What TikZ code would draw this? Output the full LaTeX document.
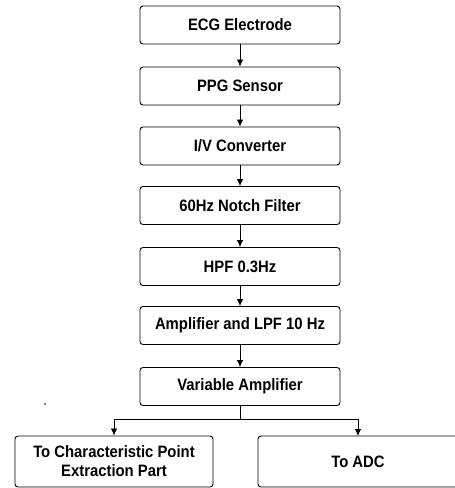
\documentclass[tikz,border=0pt]{standalone}
\usepackage{fontspec}
\setmainfont{Liberation Sans}
\newfontfamily\boxfont[FakeStretch=0.9]{Liberation Sans}
\usetikzlibrary{arrows.meta}
\begin{document}
\begin{tikzpicture}[x=1pt,y=-1pt,
  block/.style={draw, line width=0.9pt, rounded corners=3pt, minimum width=200pt,
    minimum height=38pt, inner sep=0pt, align=center,
    font=\boxfont\fontsize{16.5}{19}\selectfont\bfseries},
  outbox/.style={block, minimum width=198pt, minimum height=51pt},
  flow/.style={line width=0.8pt, -{Latex[length=7pt,width=6.5pt]}},
  wire/.style={line width=0.8pt}]
\useasboundingbox (0,0) rectangle (455,488);
\clip (0,0) rectangle (455,488);

\node[block] (ecg)   at (240,25)    {ECG Electrode};
\node[block] (ppg)   at (240,86)    {PPG Sensor};
\node[block] (iv)    at (240,146)   {I/V Converter};
\node[block] (notch) at (240,205.5) {60Hz Notch Filter};
\node[block] (hpf)   at (240,266.5) {HPF 0.3Hz};
\node[block] (lpf)   at (240,325.5) {Amplifier and LPF 10 Hz};
\node[block] (vamp)  at (240,386.5) {Variable Amplifier};

\node[outbox] (cpe) at (114,461.5) {To Characteristic Point\\Extraction Part};
\node[outbox, minimum width=204pt] (adc) at (360,461.5) {\hspace*{-4pt}To ADC};

\draw[flow] (ecg)   -- (ppg);
\draw[flow] (ppg)   -- (iv);
\draw[flow] (iv)    -- (notch);
\draw[flow] (notch) -- (hpf);
\draw[flow] (hpf)   -- (lpf);
\draw[flow] (lpf)   -- (vamp);

\coordinate (split) at (240,419);
\draw[wire] (vamp.south) -- (split);
\draw[flow] (split) -| (cpe.north);
\draw[flow] (split) -| (358,436);

\fill (45,404) circle (0.8pt);
\end{tikzpicture}
\end{document}
